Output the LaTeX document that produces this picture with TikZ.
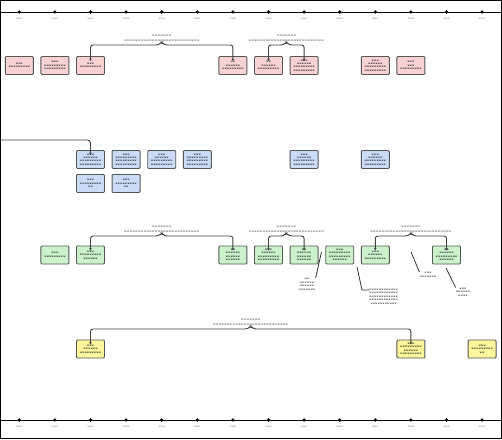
\documentclass[tikz,border=0pt]{standalone}
\usetikzlibrary{arrows.meta}
\definecolor{pinkf}{HTML}{F9D3D3}
\definecolor{bluef}{HTML}{CCDCF8}
\definecolor{greenf}{HTML}{CCF2CC}
\definecolor{yellowf}{HTML}{FBF59C}
\definecolor{edgec}{HTML}{555555}
\newcommand\wT{xx}
\newcommand\wS{xxx}
\newcommand\wM{xxxxxx}
\newcommand\wL{xxxxxxxxx}
\tikzset{
  box/.style={draw=edgec, line width=0.9pt, rounded corners=1pt, minimum width=28pt, minimum height=18pt, inner sep=0pt, align=center, font=\fontsize{3}{3.4}\selectfont\bfseries, text=black},
  pbox/.style={box, fill=pinkf},
  bbox/.style={box, fill=bluef},
  gbox/.style={box, fill=greenf},
  ybox/.style={box, fill=yellowf},
  tline/.style={line width=0.9pt},
  tdot/.style={circle, fill=black, inner sep=0pt, minimum size=3.6pt},
  tlab/.style={font=\fontsize{3}{3}\selectfont, text=black!60, inner sep=0pt},
  brk/.style={draw=black!75, line width=0.9pt, rounded corners=2.5pt, {Stealth[length=2.5pt,width=2.5pt]}-{Stealth[length=2.5pt,width=2.5pt]}},
  conn/.style={draw=black!75, line width=0.9pt, rounded corners=3pt, -{Stealth[length=2.5pt,width=2.5pt]}},
  blab/.style={font=\fontsize{3.5}{4.4}\selectfont\bfseries, text=black!60, align=center, inner sep=0pt, anchor=south},
  note/.style={font=\fontsize{3}{3.5}\selectfont\bfseries, text=black!85, align=center, inner sep=0pt},
  nline/.style={draw=black!80, line width=0.8pt},
  faint/.style={font=\fontsize{3}{3}\selectfont, text=black!10, inner sep=0pt}
}
\begin{document}
\begin{tikzpicture}[x=1pt,y=-1pt]
\useasboundingbox (0,0) rectangle (502,439);
\fill[white] (0,0) rectangle (502,439);
\draw[line width=1.2pt] (0.6,0.6) rectangle (501.4,438.4);
% timelines
\coordinate (tla) at (0,12); \coordinate (tlb) at (502,12);
\coordinate (bla) at (0,420); \coordinate (blb) at (502,420);
\draw[tline] (tla) -- (tlb);
\draw[tline] (bla) -- (blb);
\foreach \i in {0,...,13} {
  \node[tdot] (td\i) at ({19.3+35.6*\i},12) {};
  \node[tlab] (tt\i) at ({19.3+35.6*\i},18.5) {xxx};
  \node[tdot] (bd\i) at ({19.3+35.6*\i},420) {};
  \node[tlab] (bt\i) at ({19.3+35.6*\i},426.8) {xxx};
}
% pink row
\node[pbox] (p0) at (19.3,65.5) {\wS\\\wL};
\node[pbox] (p1) at (54.9,65.5) {\wS\\\wL\\\wL};
\node[pbox] (p2) at (90.5,65.5) {\wS\\\wL};
\node[pbox] (p6) at (232.9,65.5) {\wT\\\wM\\\wL};
\node[pbox] (p7) at (268.5,65.5) {\wT\\\wM\\\wL};
\node[pbox] (p8) at (304.1,65.5) {\wS\\\wM\\\wL\\\wL};
\node[pbox] (p10) at (375.3,65.5) {\wS\\\wM\\\wL\\\wL};
\node[pbox] (p11) at (410.9,65.5) {\wS\\\wS\\\wL};
% blue rows
\node[bbox] (b2) at (90.5,159.5) {\wS\\\wM\\\wL\\\wL};
\node[bbox] (b3) at (126.1,159.5) {\wS\\\wL\\\wL\\\wL};
\node[bbox] (b4) at (161.7,159.5) {\wS\\\wM\\\wL\\\wL};
\node[bbox] (b5) at (197.3,159.5) {\wS\\\wL\\\wL\\\wL};
\node[bbox] (b8) at (304.1,159.5) {\wS\\\wM\\\wL\\\wL};
\node[bbox] (b10) at (375.3,159.5) {\wS\\\wM\\\wL\\\wL};
\node[bbox] (c2) at (90.5,183.5) {\wS\\\wL\\\wT};
\node[bbox] (c3) at (126.1,183.5) {\wS\\\wL\\\wT};
\foreach \n in {b2,b3,b4,b5,b8,b10} { \node[faint] (fa\n) at ([yshift=4pt]\n.north) {xxxxxxxxxxxx}; }
\foreach \n in {b8,b10} { \node[faint] (fb\n) at ([yshift=-4pt]\n.south) {xxxxxxxxxxxx}; }
% green row
\node[gbox] (g1) at (54.9,255) {\wS\\\wL};
\node[gbox] (g2) at (90.5,255) {\wS\\\wL\\\wM};
\node[gbox] (g6) at (232.9,255) {\wT\\\wM\\\wM\\\wM};
\node[gbox] (g7) at (268.5,255) {\wS\\\wM\\\wL\\\wL};
\node[gbox] (g8) at (304.1,255) {\wT\\\wM\\\wM\\\wM};
\node[gbox] (g9) at (339.7,255) {\wS\\\wL\\\wL\\\wM};
\node[gbox] (g10) at (375.3,255) {\wS\\\wM\\\wL};
\node[gbox] (g12) at (446.5,255) {\wT\\\wM\\\wL\\\wM};
% yellow row
\node[ybox] (y2) at (90.5,349) {\wS\\\wM\\\wL};
\node[ybox] (y11) at (410.9,349) {\wS\\\wL\\\wM\\\wL};
\node[ybox] (y13) at (482.1,349) {\wS\\\wL\\\wT};
% brackets
\coordinate (m1) at (161.7,45);
\draw[brk] ([yshift=-5pt]p2.north) -- (p2.north |- m1) -- ([xshift=-3pt]m1) -- ([yshift=3pt]m1) -- ([xshift=3pt]m1) -- (p6.north |- m1) -- ([yshift=-5pt]p6.north);
\node[blab] (l1) at (161.7,41.5) {xxxxxxx\\xxxxxxxxxxxxxxxxxxxxxxxxxxx};
\coordinate (m2) at (286.3,45);
\draw[brk] ([yshift=-5pt]p7.north) -- (p7.north |- m2) -- ([xshift=-3pt]m2) -- ([yshift=3pt]m2) -- ([xshift=3pt]m2) -- (p8.north |- m2) -- ([yshift=-5pt]p8.north);
\node[blab] (l2) at (286.3,41.5) {xxxxxxx\\xxxxxxxxxxxxxxxxxxxxxxxxxxx};
\coordinate (m3) at (161.7,236);
\draw[brk] ([yshift=-5pt]g2.north) -- (g2.north |- m3) -- ([xshift=-3pt]m3) -- ([yshift=3pt]m3) -- ([xshift=3pt]m3) -- (g6.north |- m3) -- ([yshift=-5pt]g6.north);
\node[blab] (l3) at (161.7,232.5) {xxxxxxx\\xxxxxxxxxxxxxxxxxxxxxxxxxxx};
\coordinate (m4) at (286.3,236);
\draw[brk] ([yshift=-5pt]g7.north) -- (g7.north |- m4) -- ([xshift=-3pt]m4) -- ([yshift=3pt]m4) -- ([xshift=3pt]m4) -- (g8.north |- m4) -- ([yshift=-5pt]g8.north);
\node[blab] (l4) at (286.3,232.5) {xxxxxxx\\xxxxxxxxxxxxxxxxxxxxxxxxxxx};
\coordinate (m5) at (410.9,236);
\draw[brk] ([yshift=-5pt]g10.north) -- (g10.north |- m5) -- ([xshift=-3pt]m5) -- ([yshift=3pt]m5) -- ([xshift=3pt]m5) -- (g12.north |- m5) -- ([yshift=-5pt]g12.north);
\node[blab] (l5) at (410.9,232.5) {xxxxxxx\\xxxxxxxxxxxxxxxxxxxxxxxxxxxxx};
\coordinate (m6) at (250.7,329);
\draw[brk] ([yshift=-5pt]y2.north) -- (y2.north |- m6) -- ([xshift=-3pt]m6) -- ([yshift=3pt]m6) -- ([xshift=3pt]m6) -- (y11.north |- m6) -- ([yshift=-5pt]y11.north);
\node[blab] (l6) at (250.7,325.5) {xxxxxxx\\xxxxxxxxxxxxxxxxxxxxxxxxxxx};
% left incoming connector
\coordinate (lin) at (0,140);
\draw[conn] (lin) -| ([yshift=-5pt]b2.north);
% notes
\node[note, anchor=north] (n1) at (307,278) {\wT\\\wM\\\wM\\xxxxxxx};
\coordinate (n1a) at (321.5,252);
\draw[nline] (n1a) -- (n1.north east);
\node[note, anchor=north west] (n2) at (369,288.5) {xxxxxxxxxxxx\\xxxxxxxxxxxx\\xxxxxxxxxxxx\\xxxxxxxxxxxx\\xxxxxxxxxxx};
\coordinate (n2a) at (357,267);
\coordinate (n2b) at (362,290);
\draw[nline] (n2a) -- (n2b) -- (n2b -| n2.west);
\node[note, anchor=north] (n3) at (428,272) {xxx\\xxxxxxx};
\coordinate (n3a) at (411,252);
\draw[nline] (n3a) -- (n3.north west);
\node[note, anchor=north] (n4) at (463,287.5) {xxx\\xxxxxx\\xxxx};
\coordinate (n4a) at (446,268);
\draw[nline] (n4a) -- (n4.north west);
\end{tikzpicture}
\end{document}
